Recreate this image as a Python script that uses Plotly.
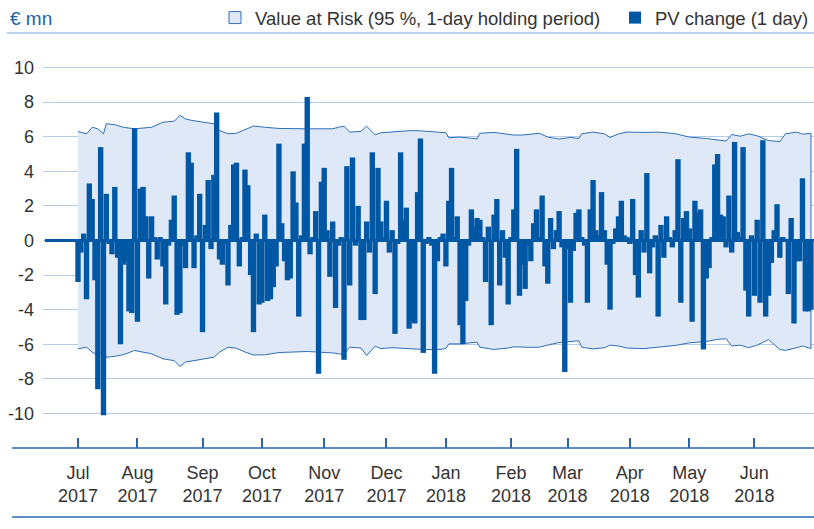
import pandas as pd
import plotly.graph_objects as go

# trading days Jul 2017 - Jun 2018
trading_days = pd.bdate_range("2017-07-03", "2018-06-29")

# daily PV change, EUR mn (one value per trading day)
pv_change = [
    -2.4, -0.7, 0.4, -3.4, 3.3, 2.4, -2.3, -8.6, 5.4, -10.1,
    2.7, -0.2, -0.8, 3.1, -1.0, -6.0, -1.4, -1.2, -4.1, -4.2,
    6.5, -4.7, 3.0, 3.1, 1.4, -2.2, 1.4, 0.2, -1.1, 0.2,
    -1.5, -3.7, -0.3, 1.2, 2.6, -4.3, -4.2, -0.3, -1.6, 5.1,
    4.5, -1.6, 0.3, 2.7, -5.3, 0.9, 3.5, -0.5, 3.8, 7.4,
    -1.1, -1.4, -0.2, -2.6, 0.9, 4.4, 4.5, -1.5, 0.2, 4.1,
    3.2, -2.0, -5.3, 0.4, -3.7, -3.6, 1.5, -3.5, -3.4, -2.7,
    -1.5, 5.6, 1.0, -1.2, -2.3, -2.2, 4.0, 2.2, -4.4, 0.3,
    5.6, 8.3, -0.8, 0.2, 1.7, -7.7, 3.4, 4.2, 0.6, -2.1,
    1.1, -3.9, -0.3, 0.2, -6.9, 4.3, -2.6, 4.8, -0.3, 2.0,
    -4.6, -4.6, 1.1, -0.7, 5.1, -3.1, 4.2, 1.1, 0.2, 2.3,
    -0.7, 0.6, -5.4, -0.2, 5.1, 1.2, 1.9, -5.1, -4.7, -4.8,
    2.8, 5.9, -6.5, -0.2, 0.2, -0.3, -7.7, -1.2, 0.2, 0.4,
    -1.5, 2.3, 4.2, 0.2, 1.4, -4.9, -6.0, -3.5, -0.3, 1.8,
    0.8, 1.3, 1.2, 0.2, -2.4, 0.8, -4.9, 1.5, 2.4, -2.6,
    0.6, -1.0, -3.7, 0.2, 1.8, 5.3, -3.2, -1.4, -2.8, -0.3,
    -1.2, 1.0, 1.8, 0.2, 2.6, -1.5, -2.5, 1.3, -0.5, 0.6,
    1.7, -0.4, -7.6, -0.5, -3.6, -0.6, 1.6, 1.8, 0.2, -0.3,
    -3.6, 1.8, 3.5, 0.6, 0.3, 2.8, 0.6, -1.4, -4.0, -0.2,
    0.7, 1.4, 2.3, 0.3, 0.2, -0.2, 2.4, -2.0, -3.3, 0.6,
    -0.7, 3.9, -1.9, -0.4, 0.3, -4.4, 0.9, -1.0, 1.4, 0.2,
    -0.4, 0.6, 4.7, -3.6, 1.3, 1.7, 0.7, -4.7, 2.3, 1.6,
    1.8, -6.3, -2.2, -1.6, 0.2, 4.4, 5.0, 1.5, 1.4, -0.4,
    2.6, -0.7, 5.7, 0.5, 0.2, 5.4, -2.9, -4.4, 0.3, -3.2,
    1.2, -3.6, 5.8, -4.4, -3.2, -1.3, 0.6, 2.1, -1.0, 0.2,
    0.1, -3.1, 1.3, -4.8, -1.2, -1.2, 3.6, -4.1, -4.1, -4.0,
]

# VaR band, read at selected trading days
var_day = [
    0, 3, 5, 7, 9, 10, 13, 16, 20, 23, 26, 30, 34, 36, 38, 40, 44, 48, 50, 53,
    56, 59, 62, 66, 71, 81, 90, 92, 94, 96, 100, 102, 105, 107, 111, 118, 122, 127, 130, 131,
    135, 141, 142, 147, 152, 154, 157, 160, 163, 166, 170, 174, 177, 178, 182, 186, 188, 191, 194, 200,
    205, 211, 216, 222, 226, 229, 231, 234, 237, 240, 244, 248, 250, 254, 256, 259,
]
var_upper = [
    6.30, 6.17, 6.55, 6.46, 6.17, 6.75, 6.70, 6.55, 6.46, 6.50, 6.55, 6.84, 6.90, 7.23, 7.03, 6.95, 6.85, 6.75, 6.36, 6.17,
    6.20, 6.40, 6.62, 6.55, 6.48, 6.46, 6.46, 6.55, 6.61, 6.27, 6.31, 6.61, 6.11, 6.23, 6.27, 6.36, 6.33, 6.27, 6.23, 5.94,
    5.98, 5.88, 6.20, 6.25, 6.17, 6.10, 6.10, 6.17, 6.20, 5.98, 5.87, 5.96, 5.90, 6.17, 6.27, 6.17, 5.96, 6.17, 6.27, 6.25,
    6.27, 6.18, 5.98, 5.90, 5.80, 5.75, 6.13, 6.03, 6.17, 6.05, 5.78, 5.72, 6.17, 6.27, 6.15, 6.20,
]
var_lower = [
    -6.27, -6.17, -6.46, -6.62, -6.30, -6.75, -6.70, -6.60, -6.36, -6.46, -6.55, -6.84, -6.95, -7.29, -7.03, -6.95, -6.85, -6.75, -6.46, -6.17,
    -6.23, -6.45, -6.62, -6.61, -6.48, -6.42, -6.50, -6.55, -6.59, -6.17, -6.22, -6.65, -6.11, -6.25, -6.20, -6.25, -6.30, -6.32, -6.25, -5.98,
    -5.98, -5.88, -6.17, -6.30, -6.22, -6.15, -6.15, -6.18, -6.17, -6.05, -5.90, -5.86, -5.80, -6.17, -6.27, -6.20, -6.05, -6.10, -6.22, -6.25,
    -6.15, -6.07, -5.92, -5.84, -5.72, -5.68, -6.10, -6.05, -6.20, -6.05, -5.73, -6.30, -6.36, -6.20, -6.10, -6.25,
]

y_ticks = [10, 8, 6, 4, 2, 0, -2, -4, -6, -8, -10]

BAR_BLUE = "#0057a4"
FILL_BLUE = "#dee8f6"
EDGE_BLUE = "#2e6fba"
GRID_BLUE = "#b3cde9"
AXIS_BLUE = "#2a66ad"
TEXT = "#333333"
FONT = "Liberation Sans, Arial, sans-serif"
Y_RANGE = [-12, 12]

days = list(range(len(pv_change)))
dates = trading_days[: len(pv_change)]
firsts = pd.Series(days, index=dates).groupby(dates.to_period("M")).first()
tick_vals = list(firsts.values)
tick_text = [f"{p.strftime('%b')}<br>{p.strftime('%Y')}" for p in firsts.index]

fig = go.Figure()

# VaR band as closed polygon
fig.add_trace(go.Scatter(
    x=var_day + var_day[::-1],
    y=var_upper + var_lower[::-1],
    fill="toself",
    fillcolor=FILL_BLUE,
    line=dict(color=EDGE_BLUE, width=1),
    mode="lines",
    showlegend=False,
    hoverinfo="skip",
))

# legend entry for the band
fig.add_trace(go.Bar(
    x=[None], y=[None],
    name="Value at Risk (95 %, 1-day holding period)",
    marker=dict(color=FILL_BLUE, line=dict(color=EDGE_BLUE, width=1)),
    legend="legend",
))

# bars on an overlaying axis so they sit above the band
fig.add_trace(go.Bar(
    x=days, y=pv_change,
    width=1.9,
    name="PV change (1 day)",
    marker=dict(color=BAR_BLUE, line=dict(width=0)),
    yaxis="y2",
    legend="legend2",
))

legend_common = dict(
    orientation="h", xanchor="left", y=1.036, yanchor="middle",
    font=dict(size=18.5, color=TEXT), bgcolor="rgba(0,0,0,0)",
)

fig.update_layout(
    width=814, height=529,
    margin=dict(l=43, r=0, t=33, b=81, autoexpand=False),
    paper_bgcolor="white", plot_bgcolor="white",
    barmode="overlay",
    font=dict(family=FONT, color=TEXT, size=18),
    legend=dict(x=0.2231, **legend_common),
    legend2=dict(x=0.7419, **legend_common),
    xaxis=dict(
        range=[-12.37, 260.07],
        tickmode="array", tickvals=tick_vals, ticktext=tick_text,
        ticks="inside", ticklen=10, tickwidth=1.5, tickcolor=AXIS_BLUE,
        showgrid=False, zeroline=False, showline=False,
        tickfont=dict(size=18, color=TEXT),
        ticklabelstandoff=12,
    ),
    yaxis=dict(
        range=Y_RANGE,
        tickmode="array", tickvals=y_ticks, ticktext=[str(v) for v in y_ticks],
        showgrid=True, gridcolor=GRID_BLUE, gridwidth=1.3,
        zeroline=False, showline=False, ticks="",
        tickfont=dict(size=18, color=TEXT),
        ticklabelstandoff=8,
    ),
    yaxis2=dict(
        range=Y_RANGE, overlaying="y", visible=False,
        showgrid=False, zeroline=False,
    ),
    showlegend=True,
)

# zero line, axis line and frame rules
fig.add_shape(type="line", xref="x", yref="y", x0=-11.7, x1=260.07, y0=0, y1=0,
              line=dict(color=BAR_BLUE, width=3), layer="above")
fig.add_shape(type="line", xref="paper", yref="paper", x0=-0.047, x1=1, y0=1, y1=1,
              line=dict(color="#a6c4e6", width=1.5))
fig.add_shape(type="line", xref="paper", yref="paper", x0=-0.040, x1=1, y0=0, y1=0,
              line=dict(color=AXIS_BLUE, width=1.5))
fig.add_shape(type="line", xref="paper", yref="paper", x0=-0.040, x1=1, y0=-0.1663, y1=-0.1663,
              line=dict(color=AXIS_BLUE, width=1.5))

fig.add_annotation(text="€ mn", xref="paper", yref="paper", x=-0.046, y=1.036,
                   xanchor="left", yanchor="middle", showarrow=False,
                   font=dict(size=19, color="#2063ad"))

# page body has a default 8px margin; drop it so the figure fills the window
fig.write_html(
    "out.html",
    config={"displayModeBar": False},
    post_script="document.body.style.margin='0';",
)
